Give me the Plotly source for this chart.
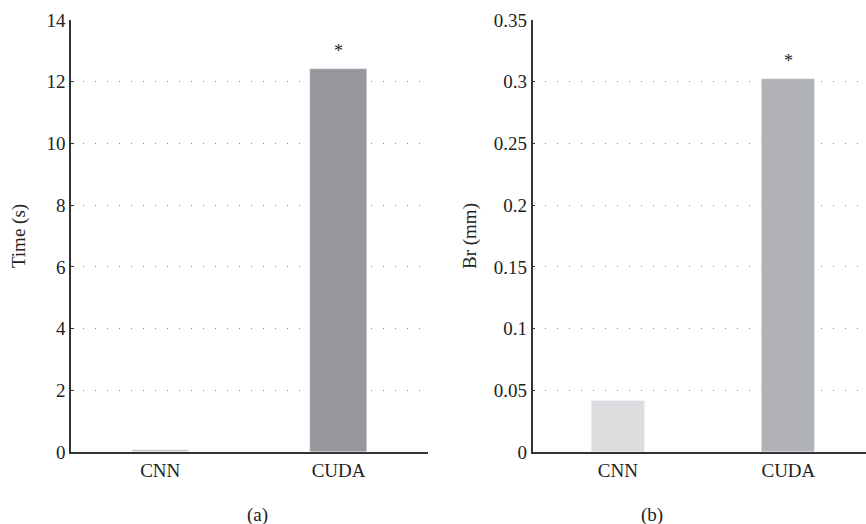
import plotly.graph_objects as go

categories = ["CNN", "CUDA"]
time_values = [0.06, 12.4]
br_values = [0.041, 0.302]
time_colors = ["#c8c8ca", "#96979b"]
br_colors = ["#dcddde", "#b1b2b6"]
time_ticks = [0, 2, 4, 6, 8, 10, 12, 14]
br_ticks = [0, 0.05, 0.1, 0.15, 0.2, 0.25, 0.3, 0.35]
br_ticklabels = ["0", "0.05", "0.1", "0.15", "0.2", "0.25", "0.3", "0.35"]
star_time = [None, 13.0]
star_br = [None, 0.317]

FONT = "Liberation Serif"
FS = 19
fig = go.Figure()

fig.add_trace(go.Bar(x=categories, y=time_values, marker_color=time_colors,
                     width=0.32, xaxis="x", yaxis="y", showlegend=False))
fig.add_trace(go.Bar(x=categories, y=br_values, marker_color=br_colors,
                     width=0.31, xaxis="x2", yaxis="y2", showlegend=False))

for c, v in zip(categories, star_time):
    if v is not None:
        fig.add_annotation(x=c, y=v, text="*", showarrow=False, xref="x", yref="y",
                           font=dict(family=FONT, size=18, color="#222"))
for c, v in zip(categories, star_br):
    if v is not None:
        fig.add_annotation(x=c, y=v, text="*", showarrow=False, xref="x2", yref="y2",
                           font=dict(family=FONT, size=18, color="#222"))

fig.add_annotation(x=0.283, y=-0.177, xref="paper", yref="paper", text="(a)",
                   showarrow=False, font=dict(family=FONT, size=FS, color="#222"))
fig.add_annotation(x=0.768, y=-0.177, xref="paper", yref="paper", text="(b)",
                   showarrow=False, font=dict(family=FONT, size=FS, color="#222"))

xcommon = dict(showline=True, linecolor="#333", linewidth=1.5, ticks="",
               showgrid=False, zeroline=False, automargin=False,
               tickfont=dict(family=FONT, size=FS, color="#222"))
ycommon = dict(showline=True, linecolor="#333", linewidth=1.5, ticks="inside",
               ticklen=3, tickcolor="#333", showgrid=True, gridcolor="#888",
               gridwidth=1, griddash="1px,11px", zeroline=False, automargin=False,
               tickfont=dict(family=FONT, size=FS, color="#222"))

fig.update_layout(
    width=866, height=524,
    margin=dict(l=0, r=0, t=20, b=72),
    paper_bgcolor="white", plot_bgcolor="white",
    bargap=0,
    xaxis=dict(domain=[0.082, 0.494], anchor="y", range=[-0.5, 1.5], **xcommon),
    yaxis=dict(anchor="x", range=[0, 14], tickvals=time_ticks,
               title=dict(text="Time (s)", font=dict(family=FONT, size=FS, color="#222"), standoff=16),
               **ycommon),
    xaxis2=dict(domain=[0.615, 1.0], anchor="y2", range=[-0.5, 1.455], **xcommon),
    yaxis2=dict(anchor="x2", range=[0, 0.35], tickvals=br_ticks, ticktext=br_ticklabels,
                title=dict(text="Br (mm)", font=dict(family=FONT, size=FS, color="#222"), standoff=12),
                **ycommon),
)

fig.write_html("out.html", config={"displayModeBar": False},
               post_script="document.body.style.margin='0';document.body.style.overflow='hidden';")
